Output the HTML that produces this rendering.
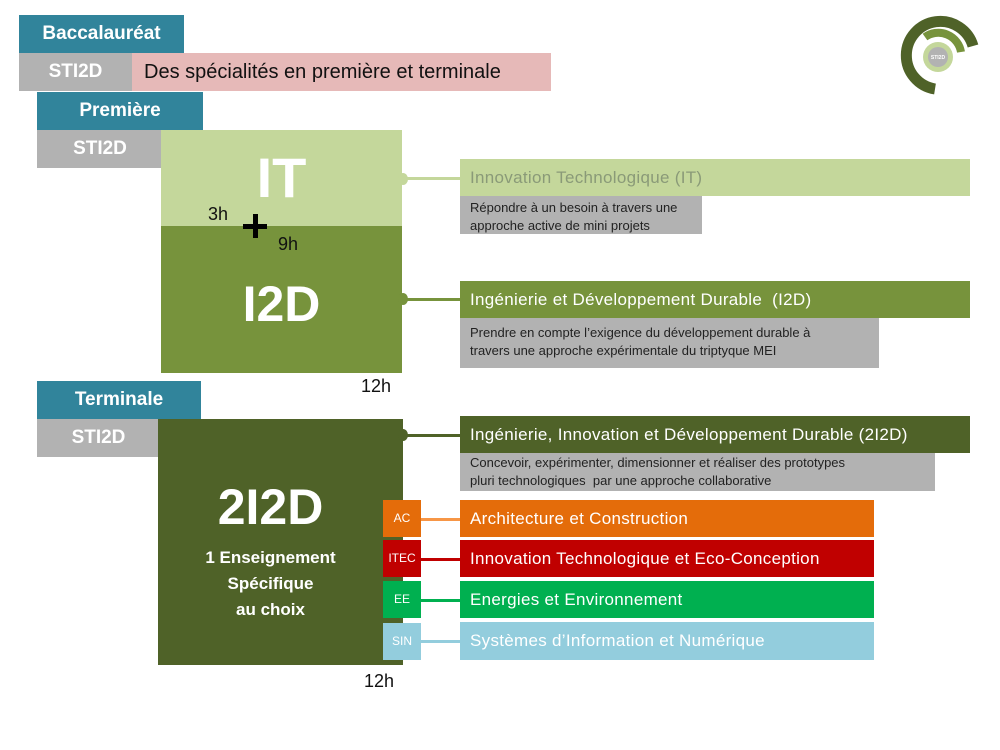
<!DOCTYPE html>
<html><head><meta charset="utf-8"><style>
body{margin:0;width:1000px;height:750px;background:#fff;position:relative;overflow:hidden;font-family:"Liberation Sans","DejaVu Sans",sans-serif}
div{position:absolute;box-sizing:border-box}
.h{background:#31849b;color:#fff;font-weight:bold;font-size:19px;text-align:center}
.g{background:#b2b2b2;color:#fff;font-weight:bold;font-size:19px;text-align:center}
.lab{color:#fff;font-size:17px;padding-left:10px;white-space:nowrap;letter-spacing:0.3px}
.desc{background:#b2b2b2;color:#222;font-size:13px;padding:3px 10px;line-height:18px;white-space:nowrap}
.t{color:#111;font-size:18px}
.sm{color:#fff;font-size:12px;text-align:center;width:38px;line-height:37px}
</style></head><body>
<div class="h" style="left:19px;top:15px;width:165px;height:38px;line-height:38px">Baccalauréat</div>
<div class="g" style="left:19px;top:53px;width:113px;height:38px;line-height:38px">STI2D</div>
<div style="left:132px;top:53px;width:419px;height:38px;background:#e6b9b8;font-size:20px;line-height:38px;padding-left:12px;color:#111">Des spécialités en première et terminale</div>
<div class="h" style="left:37px;top:92px;width:166px;height:38px;line-height:38px">Première</div>
<div class="g" style="left:37px;top:130px;width:124px;height:38px;line-height:38px;padding-left:2px">STI2D</div>
<div style="left:161px;top:130px;width:241px;height:96px;background:#c4d79b;color:#fff;font-weight:bold;font-size:56px;text-align:center;line-height:96px">IT</div>
<div style="left:161px;top:226px;width:241px;height:147px;background:#77933c;color:#fff;font-weight:bold;font-size:50px;text-align:center;line-height:156px">I2D</div>
<div class="t" style="left:208px;top:204px">3h</div>
<div style="left:243px;top:224px;width:24px;height:5px;background:#000"></div>
<div style="left:253px;top:214px;width:5px;height:24px;background:#000"></div>
<div class="t" style="left:278px;top:234px">9h</div>
<div class="t" style="left:361px;top:376px">12h</div>
<div class="h" style="left:37px;top:381px;width:164px;height:38px;line-height:38px">Terminale</div>
<div class="g" style="left:37px;top:419px;width:121px;height:38px;line-height:38px;padding-left:2px">STI2D</div>
<div style="left:158px;top:419px;width:245px;height:246px;background:#4f6228;color:#fff;font-weight:bold;text-align:center;padding-right:20px">
<div style="position:static;font-size:50px;margin-top:58px;line-height:60px">2I2D</div>
<div style="position:static;font-size:17px;line-height:26px;margin-top:8px">1 Enseignement<br>Spécifique<br>au choix</div></div>
<div class="t" style="left:364px;top:671px">12h</div>
<!-- connectors -->
<div style="left:398px;top:173px;width:10px;height:12px;border-radius:50%;background:#c4d79b"></div>
<div style="left:402px;top:177px;width:58px;height:3px;background:#c4d79b"></div>
<div style="left:398px;top:293px;width:10px;height:12px;border-radius:50%;background:#77933c"></div>
<div style="left:402px;top:298px;width:58px;height:3px;background:#77933c"></div>
<div style="left:398px;top:429px;width:10px;height:12px;border-radius:50%;background:#4f6228"></div>
<div style="left:402px;top:434px;width:58px;height:3px;background:#4f6228"></div>
<div style="left:420px;top:518px;width:40px;height:3px;background:#f79646"></div>
<div style="left:420px;top:558px;width:40px;height:3px;background:#c00000"></div>
<div style="left:420px;top:599px;width:40px;height:3px;background:#00b050"></div>
<div style="left:420px;top:640px;width:40px;height:3px;background:#93cddd"></div>
<!-- right -->
<div class="lab" style="left:460px;top:159px;width:510px;height:37px;line-height:37px;background:#c4d79b;color:#8a9a78">Innovation Technologique (IT)</div>
<div class="desc" style="left:460px;top:196px;width:242px;height:38px">Répondre à un besoin à travers une<br>approche active de mini projets</div>
<div class="lab" style="left:460px;top:281px;width:510px;height:37px;line-height:37px;background:#77933c">Ingénierie et Développement Durable&nbsp; (I2D)</div>
<div class="desc" style="left:460px;top:318px;width:419px;height:50px;padding-top:6px">Prendre en compte l’exigence du développement durable à<br>travers une approche expérimentale du triptyque MEI</div>
<div class="lab" style="left:460px;top:416px;width:510px;height:37px;line-height:37px;background:#4f6228">Ingénierie, Innovation et Développement Durable (2I2D)</div>
<div class="desc" style="left:460px;top:453px;width:475px;height:38px;padding-top:1px">Concevoir, expérimenter, dimensionner et réaliser des prototypes<br>pluri technologiques&nbsp; par une approche collaborative</div>
<div class="sm" style="left:383px;top:500px;height:37px;background:#e46c0a">AC</div>
<div class="sm" style="left:383px;top:540px;height:37px;background:#c00000">ITEC</div>
<div class="sm" style="left:383px;top:581px;height:37px;background:#00b050">EE</div>
<div class="sm" style="left:383px;top:623px;height:37px;background:#93cddd">SIN</div>
<div class="lab" style="left:460px;top:500px;width:414px;height:37px;line-height:37px;background:#e46c0a">Architecture et Construction</div>
<div class="lab" style="left:460px;top:540px;width:414px;height:37px;line-height:37px;background:#c00000">Innovation Technologique et Eco-Conception</div>
<div class="lab" style="left:460px;top:581px;width:414px;height:37px;line-height:37px;background:#00b050">Energies et Environnement</div>
<div class="lab" style="left:460px;top:622px;width:414px;height:38px;line-height:38px;background:#93cddd">Systèmes d’Information et Numérique</div>
<!-- logo -->
<svg style="position:absolute;left:895px;top:12px" width="90" height="85" viewBox="0 0 90 85">
<path d="M78,34 A34,34 0 1 0 40,77" fill="none" stroke="#4f6228" stroke-width="11"/>
<path d="M66,40 A23,23 0 0 0 30,25" fill="none" stroke="#77933c" stroke-width="8"/>
<circle cx="43" cy="45" r="15" fill="#c4d79b"/>
<circle cx="43" cy="45" r="10" fill="#b2b2b2"/>
<text x="43" y="47" font-size="5" fill="#fff" text-anchor="middle" font-family="Liberation Sans" font-weight="bold">STI2D</text>
</svg>
</body></html>
